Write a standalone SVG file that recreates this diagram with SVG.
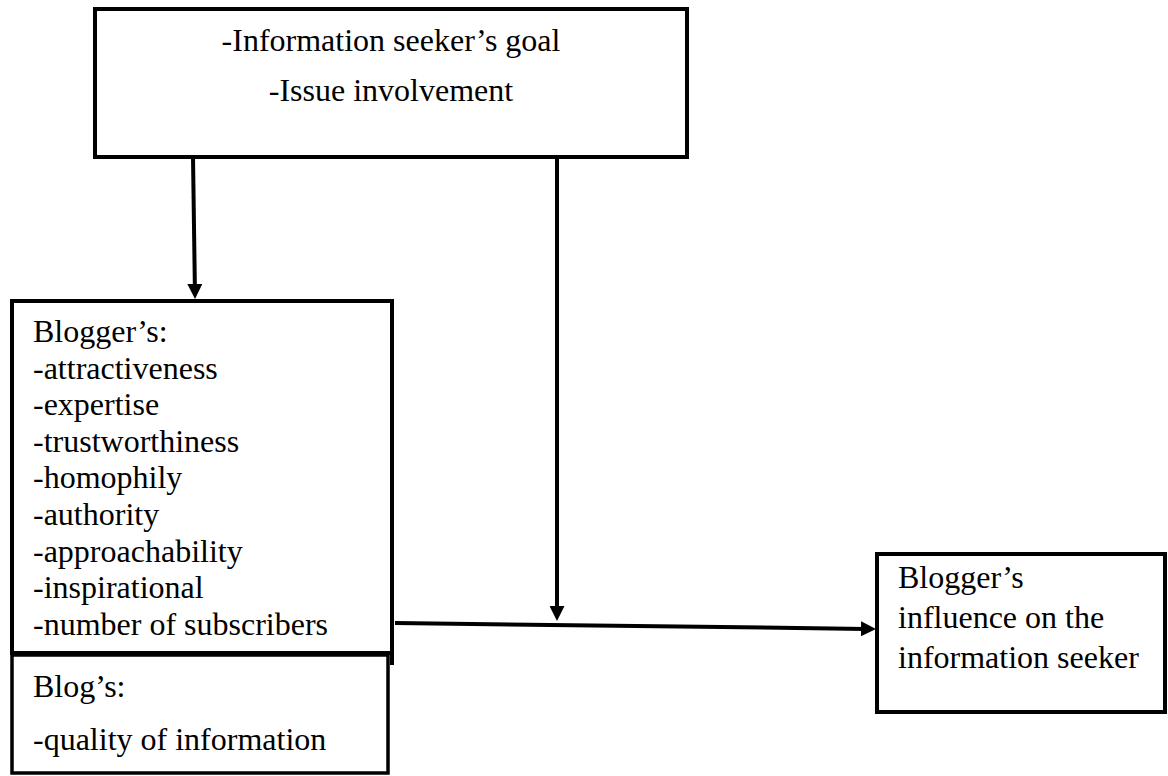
<svg xmlns="http://www.w3.org/2000/svg" width="1168" height="776" viewBox="0 0 1168 776">
  <style>
    .box { fill: #ffffff; stroke: #000000; stroke-width: 4; }
    .t { font-family: "Liberation Serif", "Times New Roman", serif; font-size: 32px; fill: #000000; }
    .c { text-anchor: middle; }
    .conn { stroke: #000000; stroke-width: 4; fill: none; }
  </style>
  <defs>
    <marker id="arrow" markerUnits="userSpaceOnUse" markerWidth="15" markerHeight="15" refX="5" refY="7.5" orient="auto">
      <path d="M0,0 L15,7.5 L0,15 Z" fill="#000000"/>
    </marker>
  </defs>
  <rect width="1168" height="776" fill="#ffffff"/>

  <g id="node-goal">
    <rect class="box" x="95" y="9" width="592" height="148"/>
    <text class="t c" x="391" y="51">-Information seeker’s goal</text>
    <text class="t c" x="391" y="101">-Issue involvement</text>
  </g>

  <g id="node-blogger">
    <rect class="box" x="12" y="301" width="380" height="352"/>
    <line class="conn" x1="392" y1="650" x2="392" y2="665"/>
    <text class="t" x="33" y="342">Blogger’s:</text>
    <text class="t" x="33" y="378.6">-attractiveness</text>
    <text class="t" x="33" y="415.2">-expertise</text>
    <text class="t" x="33" y="451.8">-trustworthiness</text>
    <text class="t" x="33" y="488.4">-homophily</text>
    <text class="t" x="33" y="525">-authority</text>
    <text class="t" x="33" y="561.6">-approachability</text>
    <text class="t" x="33" y="598.2">-inspirational</text>
    <text class="t" x="33" y="634.8">-number of subscribers</text>
  </g>

  <g id="node-blog">
    <rect class="box" x="12" y="655" width="376" height="118" style="stroke-width:3.5"/>
    <text class="t" x="33" y="697">Blog’s:</text>
    <text class="t" x="33" y="750">-quality of information</text>
  </g>

  <g id="node-influence">
    <rect class="box" x="877" y="554" width="288" height="158"/>
    <text class="t" x="898" y="588">Blogger’s</text>
    <text class="t" x="898" y="628">influence on the</text>
    <text class="t" x="898" y="668">information seeker</text>
  </g>

  <g id="connectors">
    <line class="conn" x1="193" y1="157" x2="194.9" y2="289" marker-end="url(#arrow)"/>
    <line class="conn" x1="557" y1="157" x2="557" y2="611" marker-end="url(#arrow)"/>
    <line class="conn" x1="395" y1="623" x2="866" y2="628.9" marker-end="url(#arrow)"/>
  </g>
</svg>
